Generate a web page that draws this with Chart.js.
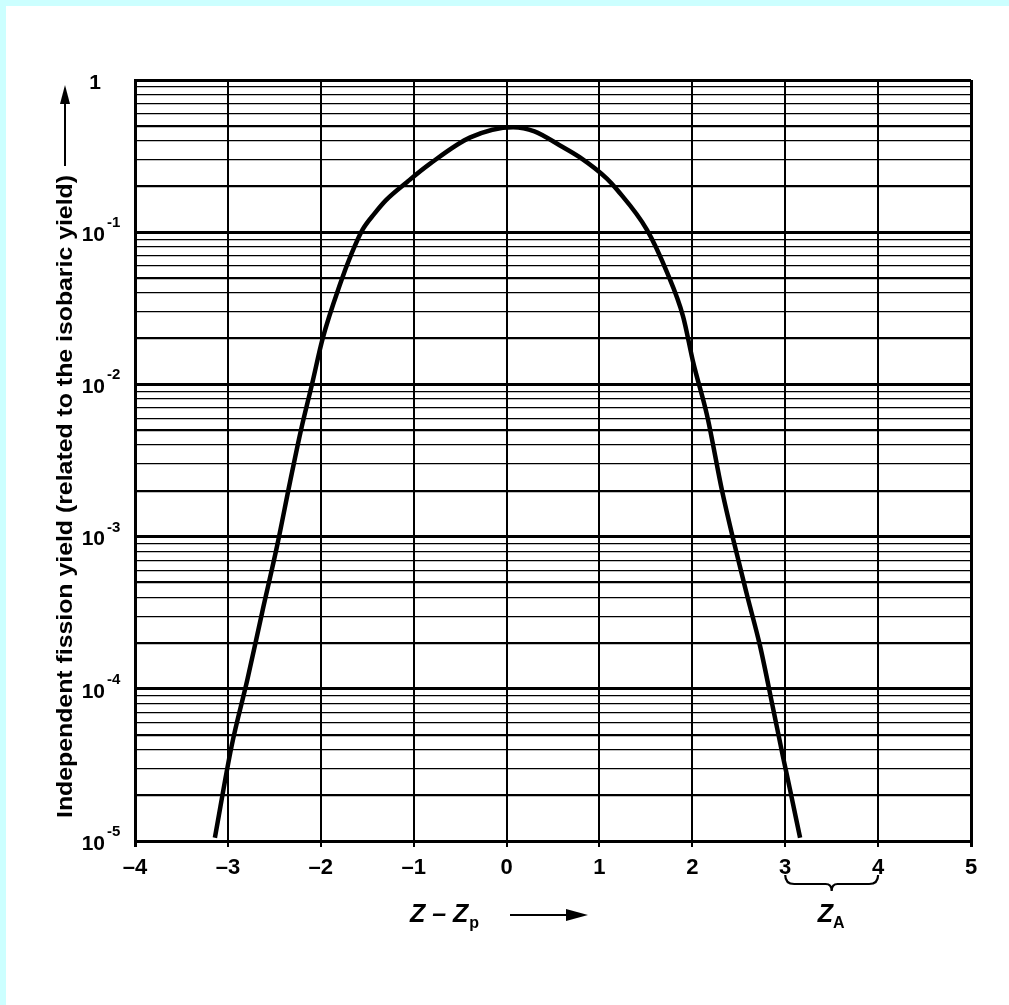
<!DOCTYPE html>
<html>
<head>
<meta charset="utf-8">
<script src="https://cdn.jsdelivr.net/npm/chart.js@4/dist/chart.umd.min.js"></script>
<style>
  html, body { margin: 0; padding: 0; background: #ffffff; }
  canvas { display: block; }
</style>
</head>
<body>
<canvas id="c" width="1009" height="1005"></canvas>
<script>
// ---- data ----
const zValues = [-3.14, -2.96, -2.79, -2.63, -2.47, -2.33, -2.22, -2.09, -1.98, -1.79, -1.67, -1.55, -1.42, -1.30, -1.07, -0.83, -0.39, 0.07, 0.30, 0.58, 0.79, 1.08, 1.19, 1.51, 1.73, 1.90, 2.01, 2.16, 2.32, 2.44, 2.59, 2.73, 2.87, 2.975, 3.05, 3.16];
const yieldValues = [1.05e-5, 4.2e-5, 1.15e-4, 3.2e-4, 8.7e-4, 2.3e-3, 4.8e-3, 1.03e-2, 2.0e-2, 4.6e-2, 0.072, 0.104, 0.133, 0.162, 0.214, 0.28, 0.42, 0.49, 0.46, 0.37, 0.31, 0.225, 0.19, 0.104, 0.054, 0.028, 0.0139, 0.0062, 0.0020, 9.6e-4, 4.1e-4, 1.9e-4, 7.4e-5, 3.6e-5, 2.2e-5, 1.05e-5];
const xTickValues = [-4, -3, -2, -1, 0, 1, 2, 3, 4, 5];
const xTickLabels = ['\u20134', '\u20133', '\u20132', '\u20131', '0', '1', '2', '3', '4', '5'];
const yDecadeExponents = [-5, -4, -3, -2, -1, 0];
const yDecadeBase = ['10', '10', '10', '10', '10', '1'];
const yDecadeSup = ['-5', '-4', '-3', '-2', '-1', ''];
const yTitleText = 'Independent fission yield (related to the isobaric yield)';
const xTitleMain = 'Z \u2013 Z';
const xTitleSub = 'p';
const braceLabelMain = 'Z';
const braceLabelSub = 'A';
const braceFrom = 3, braceTo = 4;

// grid values of the log paper: 1..9 x each decade
const yGridValues = [];
for (let e = -5; e < 0; e++) {
  for (let m = 1; m <= 9; m++) yGridValues.push(m * Math.pow(10, e));
}
yGridValues.push(1);

function isDecade(v) {
  const l = Math.log10(v);
  return Math.abs(l - Math.round(l)) < 1e-9;
}
function mantissa(v) {
  const e = Math.floor(Math.log10(v) + 1e-9);
  return Math.round(v / Math.pow(10, e));
}

const FONT = '"Liberation Sans Narrow", "Liberation Sans", Arial, sans-serif';

const decorPlugin = {
  id: 'decor',
  beforeDraw(chart) {
    const ctx = chart.ctx;
    ctx.save();
    ctx.fillStyle = '#ffffff';
    ctx.fillRect(0, 0, chart.width, chart.height);
    ctx.fillStyle = '#ccffff';
    ctx.fillRect(0, 0, chart.width, 6);
    ctx.fillRect(0, 0, 6, chart.height);
    ctx.restore();
  },
  afterDraw(chart) {
    const ctx = chart.ctx;
    const xs = chart.scales.x;
    const ys = chart.scales.y;
    ctx.save();
    ctx.fillStyle = '#000';
    ctx.strokeStyle = '#000';

    // ---- Y tick labels (decades) with raised exponents, placed by the y scale ----
    yDecadeExponents.forEach((e, i) => {
      const py = ys.getPixelForValue(Math.pow(10, e));
      if (yDecadeSup[i] === '') {
        ctx.font = 'bold 21px ' + FONT;
        ctx.textAlign = 'right';
        ctx.textBaseline = 'middle';
        ctx.fillText(yDecadeBase[i], 101, py + 3);
      } else {
        ctx.font = 'bold 21px ' + FONT;
        ctx.textAlign = 'right';
        ctx.textBaseline = 'middle';
        ctx.fillText(yDecadeBase[i], 105, py + 3);
        ctx.font = 'bold 15px ' + FONT;
        ctx.textAlign = 'left';
        ctx.textBaseline = 'alphabetic';
        ctx.fillText(yDecadeSup[i], 107, py - 5);
      }
    });

    // ---- Y axis title (rotated) with arrow ----
    ctx.save();
    ctx.translate(72, 818);
    ctx.rotate(-Math.PI / 2);
    ctx.font = 'bold 22px ' + FONT;
    ctx.textBaseline = 'alphabetic';
    ctx.textAlign = 'left';
    const w = ctx.measureText(yTitleText).width;
    const target = 643;
    ctx.scale(target / w, 1);
    ctx.fillText(yTitleText, 0, 0);
    ctx.restore();
    ctx.lineWidth = 2;
    ctx.beginPath();
    ctx.moveTo(65, 166);
    ctx.lineTo(65, 100);
    ctx.stroke();
    ctx.beginPath();
    ctx.moveTo(65, 85);
    ctx.lineTo(60, 104);
    ctx.lineTo(70, 104);
    ctx.closePath();
    ctx.fill();

    // ---- X axis title ----
    ctx.textAlign = 'left';
    ctx.textBaseline = 'alphabetic';
    ctx.font = 'italic bold 25px ' + FONT;
    ctx.fillText(xTitleMain, 410, 922);
    const mw = ctx.measureText(xTitleMain).width;
    ctx.font = 'bold 16px ' + FONT;
    ctx.fillText(xTitleSub, 410 + mw + 1, 928);
    ctx.lineWidth = 2;
    ctx.beginPath();
    ctx.moveTo(510, 915);
    ctx.lineTo(568, 915);
    ctx.stroke();
    ctx.beginPath();
    ctx.moveTo(588, 915);
    ctx.lineTo(566, 909);
    ctx.lineTo(566, 921);
    ctx.closePath();
    ctx.fill();

    // ---- Z_A brace between x = 3 and x = 4 ----
    const x1 = xs.getPixelForValue(braceFrom);
    const x2 = xs.getPixelForValue(braceTo);
    const xm = (x1 + x2) / 2;
    ctx.lineWidth = 2.2;
    ctx.beginPath();
    ctx.moveTo(x1, 875);
    ctx.quadraticCurveTo(x1, 884, x1 + 9, 884);
    ctx.lineTo(xm - 6, 884);
    ctx.quadraticCurveTo(xm, 884, xm, 891);
    ctx.quadraticCurveTo(xm, 884, xm + 6, 884);
    ctx.lineTo(x2 - 9, 884);
    ctx.quadraticCurveTo(x2, 884, x2, 875);
    ctx.stroke();
    ctx.font = 'italic bold 25px ' + FONT;
    ctx.fillText(braceLabelMain, xm - 14, 922);
    const zw = ctx.measureText(braceLabelMain).width;
    ctx.font = 'bold 16px ' + FONT;
    ctx.fillText(braceLabelSub, xm - 14 + zw, 928);

    ctx.restore();
  }
};

new Chart(document.getElementById('c'), {
  type: 'line',
  data: {
    datasets: [{
      data: zValues.map((z, i) => ({ x: z, y: yieldValues[i] })),
      borderColor: '#000',
      borderWidth: 4.5,
      pointRadius: 0,
      fill: false,
      cubicInterpolationMode: 'monotone'
    }]
  },
  options: {
    responsive: false,
    animation: false,
    devicePixelRatio: 1,
    layout: { padding: { left: 7, top: 80, right: 38, bottom: 104 } },
    plugins: { legend: { display: false }, tooltip: { enabled: false } },
    scales: {
      x: {
        type: 'linear',
        min: -4,
        max: 5,
        afterBuildTicks: (s) => { s.ticks = xTickValues.map(v => ({ value: v })); },
        afterFit: (s) => { s.height = 60; },
        ticks: {
          autoSkip: false,
          maxRotation: 0,
          color: '#000',
          padding: 8,
          font: { family: FONT, size: 22, weight: 'bold' },
          callback: (v) => { const i = xTickValues.indexOf(v); return i >= 0 ? xTickLabels[i] : ''; }
        },
        grid: {
          color: '#000',
          lineWidth: (c) => (c.tick && (c.tick.value === 5 || c.tick.value === -4)) ? 3 : 2,
          drawTicks: true,
          tickLength: 6
        },
        border: { display: true, color: '#000', width: 3 }
      },
      y: {
        type: 'logarithmic',
        min: 1e-5,
        max: 1,
        afterBuildTicks: (s) => { s.ticks = yGridValues.map(v => ({ value: v })); },
        afterFit: (s) => { s.width = 128; },
        ticks: { display: false, autoSkip: false },
        grid: {
          color: '#000',
          drawTicks: false,
          lineWidth: (c) => {
            if (!c.tick) return 1;
            const v = c.tick.value;
            if (isDecade(v)) return 3;
            const m = mantissa(v);
            if (m === 2 || m === 5) return 2.2;
            return 1.3;
          }
        },
        border: { display: true, color: '#000', width: 3 }
      }
    }
  },
  plugins: [decorPlugin]
});
</script>
</body>
</html>
